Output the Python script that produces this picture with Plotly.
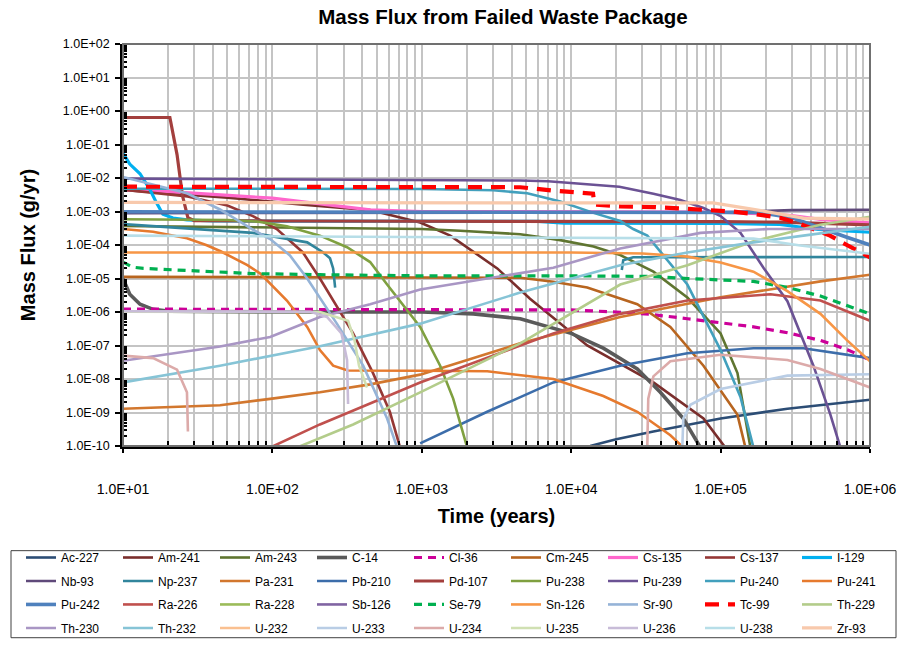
import plotly.graph_objects as go

# ---------------------------------------------------------------------------
# Mass flux released from a failed waste package, per radionuclide.
# Each nuclide: time points (years) and mass flux (g/yr).
# None marks a break in a curve (flux below the plotted range).
# ---------------------------------------------------------------------------
AC227_T = [13400, 20000, 35500, 1e5, 2.8e5, 1e6]
AC227_F = [1e-10, 1.6e-10, 2.7e-10, 6.6e-10, 1.3e-9, 2.4e-9]

AM241_T = [10, 50, 161, 451, 975, 1550, 3200, 5300, 12800, 35500, 76800, 107600]
AM241_F = [4.4e-3, 2.6e-3, 1.6e-3, 1.1e-3, 4.7e-4, 1.9e-4, 2.0e-5, 2.5e-6, 1.0e-7, 7.9e-9, 6.6e-10, 9e-11]

AM243_T = [10, 300, 1000, 1807, 4560, 8450, 14100, 21300, 35500, 59900, 1e5, 129700, 158400]
AM243_F = [3.7e-4, 3.2e-4, 3.0e-4, 2.65e-4, 2.1e-4, 1.4e-4, 9.0e-5, 5.0e-5, 1.6e-5, 2.7e-6, 2.3e-7, 1.5e-8, 9e-11]

C14_T = [10, 11.1, 13, 15.9, 20.6, 100, 1000, 2210, 4560, 1e4, 16400, 27700, 39500, 56300, 73300]
C14_F = [1.0e-5, 3.4e-6, 1.7e-6, 1.2e-6, 1.05e-6, 1.0e-6, 1.0e-6, 8.8e-7, 6.3e-7, 2.3e-7, 8.3e-8, 2.0e-8, 4.0e-9, 6.6e-10, 9e-11]

CL36_T = [10, 1000, 1e4, 20000, 34000, 60000, 1e5, 166000, 280000, 466000, 706000, 1e6]
CL36_F = [1.22e-6, 1.2e-6, 1.15e-6, 1.0e-6, 8.5e-7, 6.3e-7, 4.8e-7, 3.6e-7, 2.4e-7, 1.42e-7, 7.5e-8, 3.7e-8]

CM245_T = [10, 1000, 4560, 7590, 12800, 27700, 46100, 76800, 129700, 146600]
CM245_F = [1.12e-5, 1.1e-5, 1.05e-5, 8.0e-6, 5.4e-6, 1.7e-6, 3.6e-7, 2.5e-8, 8.5e-10, 9e-11]

CS135_T = [10, 20.6, 100, 451, 1000, 1e4, 1e5, 2e5, 3e5, 466000, 1e6]
CS135_F = [4.5e-3, 3.9e-3, 2.5e-3, 1.12e-3, 1.0e-3, 9.8e-4, 9.6e-4, 8.5e-4, 7.6e-4, 5.8e-4, 4.6e-4]

CS137_T = [10, 27, 50, 74, 107, 160, 208, 347, 470, 611, 716]
CS137_F = [4.5e-3, 2.8e-3, 1.5e-3, 7.3e-4, 3.0e-4, 6.0e-5, 1.0e-5, 2.3e-7, 1.55e-8, 1.05e-9, 9e-11]

I129_T = [10, 11.1, 13, 15.2, 16.8, 18.5, 21.6, 26.8, 40, 1000, 6000, 9000, 1e5, 2.5e5, 4.5e5, 1e6]
I129_F = [5.5e-2, 2.6e-2, 1.34e-2, 4.4e-3, 1.78e-3, 8.3e-4, 6.4e-4, 5.6e-4, 5.2e-4, 5.2e-4, 5.1e-4, 4.5e-4, 4.4e-4, 4.1e-4, 2.9e-4, 2.4e-4]

NB93_T = [10, 1e4, 1e5, 3e5, 1e6]
NB93_F = [8.9e-4, 9.0e-4, 9.5e-4, 1.1e-3, 1.13e-3]

NP237_T = [10, 74, 171, 219, 243, 255, 263, None, 21800, 22300, 26000, 1e5, 1e6]
NP237_F = [4.2e-4, 2.3e-4, 1.2e-4, 6.0e-5, 4.0e-5, 2.0e-5, 5.3e-6, None, 1.8e-5, 3.5e-5, 4.3e-5, 4.4e-5, 4.4e-5]

PA231_T = [10, 44.6, 96.6, 208, 451, 975, 4560, 21300, 1e5, 466000, 1e6]
PA231_F = [1.29e-9, 1.65e-9, 2.55e-9, 4.0e-9, 6.9e-9, 1.35e-8, 1.16e-7, 7.1e-7, 2.74e-6, 8.2e-6, 1.3e-5]

PB210_T = [975, 2740, 7590, 21300, 59900, 166000, 358000, 1e6]
PB210_F = [1.2e-10, 1.05e-9, 7.9e-9, 2.5e-8, 5.9e-8, 8.3e-8, 8.3e-8, 4.2e-8]

PD107_T = [10, 20.6, 23, 25, 27.2, 30, 100, 1000, 1e4, 1e5, 2.5e5, 5e5, 1e6]
PD107_F = [0.64, 0.64, 0.05, 3.0e-3, 6.5e-4, 5.3e-4, 5.2e-4, 5.2e-4, 5.1e-4, 5.0e-4, 4.8e-4, 4.4e-4, 4.0e-4]

PU238_T = [10, 50, 79, 125, 161, 208, 316, 451, 586, 798, 975, 1327, 1622, 2013]
PU238_F = [5.9e-4, 5.6e-4, 5.0e-4, 3.6e-4, 2.6e-4, 1.9e-4, 8.6e-5, 3.1e-5, 6.6e-6, 1.1e-6, 3.6e-7, 2.5e-8, 2.6e-9, 9e-11]

PU239_T = [10, 2000, 4560, 7000, 11500, 21000, 35500, 53800, 76800, 1e5, 135800, 193600, 280000, 418000, 543000, 634000]
PU239_F = [9.6e-3, 8.9e-3, 8.4e-3, 8.0e-3, 6.8e-3, 5.5e-3, 3.4e-3, 2.2e-3, 1.27e-3, 7.3e-4, 2.3e-4, 2.1e-5, 2.1e-6, 2.5e-8, 8.6e-10, 9e-11]

PU240_T = [10, 1000, 3006, 5080, 8450, 14100, 21300, 26000, 32300, 48000, 59900, 1e5, 135800, 166000]
PU240_F = [4.8e-3, 4.7e-3, 4.3e-3, 3.5e-3, 2.0e-3, 9.1e-4, 5.2e-4, 3.0e-4, 1.9e-4, 2.1e-5, 6.6e-6, 7.3e-8, 2.9e-9, 9e-11]

PU241_T = [10, 15.9, 26.8, 36, 45, 68, 83, 107, 125, 171, 208, 255, 320, 1000, 2740, 7590, 16400, 27700, 46100, 56300]
PU241_F = [3.0e-4, 2.5e-4, 1.6e-4, 1.0e-4, 6.5e-5, 2.5e-5, 1.4e-5, 4.5e-6, 2.2e-6, 3.6e-7, 7.3e-8, 2.5e-8, 1.8e-8, 1.77e-8, 1.7e-8, 1.0e-8, 3.1e-9, 1.05e-9, 2.1e-10, 9e-11]

PU242_T = [10, 1e4, 1e5, 185000, 3e5, 445000, 7e5, 1e6]
PU242_F = [9.8e-4, 9.8e-4, 9.7e-4, 9.3e-4, 6.5e-4, 3.4e-4, 1.7e-4, 1.0e-4]

RA226_T = [96.6, 208, 975, 2740, 7590, 21300, 59900, 216000, 466000, 1e6]
RA226_F = [9e-11, 4.4e-10, 7.9e-9, 4.2e-8, 2.3e-7, 8.8e-7, 2.2e-6, 3.4e-6, 2.2e-6, 5.5e-7]

# these three stay below the plotted flux range
RA228_T = [10, 1e6]
RA228_F = [1e-12, 1e-12]

SB126_T = [10, 1e6]
SB126_F = [1e-12, 1e-12]

SE79_T = [10, 11.5, 13.7, 26.8, 74, 208, 1000, 1e4, 35500, 59900, 166000, 280000, 466000, 1e6]
SE79_F = [3.1e-5, 2.2e-5, 2.0e-5, 1.7e-5, 1.4e-5, 1.3e-5, 1.2e-5, 1.2e-5, 1.15e-5, 1.0e-5, 8.2e-6, 5.4e-6, 3.0e-6, 8.8e-7]

SN126_T = [10, 1e4, 30000, 60000, 1e5, 166000, 280000, 466000, 706000, 1e6]
SN126_F = [6.0e-5, 6.0e-5, 5.6e-5, 4.5e-5, 3.0e-5, 1.6e-5, 4.2e-6, 8.8e-7, 1.4e-7, 3.4e-8]

SR90_T = [10, 26.8, 44.6, 74, 96.6, 131, 171, 270, 405, 586, 684]
SR90_F = [1.07e-2, 3.5e-3, 1.15e-3, 2.9e-4, 1.5e-4, 4.9e-5, 1.0e-5, 4.5e-7, 2.5e-8, 6.6e-10, 9e-11]

TC99_T = [10, 4560, 7590, 11500, 14000, 14300, 16400, 21300, 35500, 76800, 121000, 1.8e5, 2.5e5, 3.3e5, 5.4e5, 7.0e5, 1e6]
TC99_F = [5.5e-3, 5.3e-3, 4.2e-3, 3.7e-3, 3.4e-3, 1.6e-3, 1.5e-3, 1.42e-3, 1.36e-3, 1.15e-3, 1.0e-3, 8.0e-4, 6.5e-4, 4.5e-4, 1.9e-4, 1.0e-4, 4.3e-5]

TH229_T = [146, 347, 975, 4560, 21300, 60000, 166000, 466000, 1e6]
TH229_F = [9e-11, 4.4e-10, 4.0e-9, 1.16e-7, 6.6e-6, 2.5e-5, 1.3e-4, 4.0e-4, 7.0e-4]

TH230_T = [10, 44.6, 96.6, 208, 451, 975, 7590, 21300, 73300, 210000, 1e6]
TH230_F = [3.5e-8, 9.3e-8, 1.8e-7, 7.1e-7, 1.7e-6, 4.7e-6, 2.1e-5, 7.9e-5, 2.3e-4, 3.0e-4, 3.0e-4]

TH232_T = [10, 44.6, 208, 975, 4560, 21300, 59900, 166000, 358000, 1e6]
TH232_F = [7.9e-9, 2.5e-8, 9.5e-8, 4.5e-7, 3.8e-6, 2.5e-5, 6.0e-5, 1.2e-4, 1.9e-4, 3.5e-4]

U232_T = [10, 1e6]
U232_F = [1e-12, 1e-12]

U233_T = [55400, 56300, 62800, 1e5, 280000, 1e6]
U233_F = [9e-11, 6.6e-10, 1.7e-9, 5.0e-9, 1.26e-8, 1.38e-8]

U234_T = [10, 15.9, 23, 26.8, 27.2, None, 32300, 32800, 35500, 46100, 1e5, 280000, 466000, 1e6]
U234_F = [5.0e-8, 4.2e-8, 1.9e-8, 4.0e-9, 2.7e-10, None, 9e-11, 2.6e-9, 1.2e-8, 3.4e-8, 5.3e-8, 3.7e-8, 2.0e-8, 5.6e-9]

U235_T = [10, 100, 208, 321, 355, 380, 430]
U235_F = [1.02e-6, 1.02e-6, 1.0e-6, 5.5e-7, 1.4e-7, 2.5e-8, 5.6e-9]

U236_T = [10, 100, 180, 232, 290, 316, 321]
U236_F = [1.05e-6, 1.05e-6, 1.02e-6, 7.1e-7, 2.3e-7, 3.7e-8, 1.8e-9]

U238_T = [10, 1000, 1e4, 166000, 342000, 1e6]
U238_F = [1.9e-4, 1.75e-4, 1.6e-4, 1.55e-4, 9.7e-5, 5.5e-5]

ZR93_T = [10, 1e4, 89000, 166000, 358000, 1e6]
ZR93_F = [1.86e-3, 1.86e-3, 1.8e-3, 1.16e-3, 6.35e-4, 5.9e-4]

SERIES = [
    ("Ac-227", AC227_T, AC227_F), ("Am-241", AM241_T, AM241_F), ("Am-243", AM243_T, AM243_F),
    ("C-14", C14_T, C14_F), ("Cl-36", CL36_T, CL36_F), ("Cm-245", CM245_T, CM245_F),
    ("Cs-135", CS135_T, CS135_F), ("Cs-137", CS137_T, CS137_F), ("I-129", I129_T, I129_F),
    ("Nb-93", NB93_T, NB93_F), ("Np-237", NP237_T, NP237_F), ("Pa-231", PA231_T, PA231_F),
    ("Pb-210", PB210_T, PB210_F), ("Pd-107", PD107_T, PD107_F), ("Pu-238", PU238_T, PU238_F),
    ("Pu-239", PU239_T, PU239_F), ("Pu-240", PU240_T, PU240_F), ("Pu-241", PU241_T, PU241_F),
    ("Pu-242", PU242_T, PU242_F), ("Ra-226", RA226_T, RA226_F), ("Ra-228", RA228_T, RA228_F),
    ("Sb-126", SB126_T, SB126_F), ("Se-79", SE79_T, SE79_F), ("Sn-126", SN126_T, SN126_F),
    ("Sr-90", SR90_T, SR90_F), ("Tc-99", TC99_T, TC99_F), ("Th-229", TH229_T, TH229_F),
    ("Th-230", TH230_T, TH230_F), ("Th-232", TH232_T, TH232_F), ("U-232", U232_T, U232_F),
    ("U-233", U233_T, U233_F), ("U-234", U234_T, U234_F), ("U-235", U235_T, U235_F),
    ("U-236", U236_T, U236_F), ("U-238", U238_T, U238_F), ("Zr-93", ZR93_T, ZR93_F),
]

# line style per nuclide: colour, width, dash
STYLE = {
    "Ac-227": ("#2C4D75", 2.6, None), "Am-241": ("#7A2E2C", 2.6, None), "Am-243": ("#5F7530", 2.6, None),
    "C-14": ("#5A5A5A", 3.6, None), "Cl-36": ("#CC0099", 3.2, "8px,6px"), "Cm-245": ("#B8651F", 2.6, None),
    "Cs-135": ("#FF66CC", 3.2, None), "Cs-137": ("#953735", 2.6, None), "I-129": ("#00B0F0", 3.2, None),
    "Nb-93": ("#5F497A", 2.6, None), "Np-237": ("#31859C", 2.6, None), "Pa-231": ("#D2772E", 2.6, None),
    "Pb-210": ("#3C6DAA", 2.6, None), "Pd-107": ("#A33F3D", 3.2, None), "Pu-238": ("#7FA040", 2.6, None),
    "Pu-239": ("#6B5294", 2.6, None), "Pu-240": ("#42A0BD", 2.6, None), "Pu-241": ("#E67A2E", 2.6, None),
    "Pu-242": ("#4F81BD", 3.6, None), "Ra-226": ("#C0504D", 2.6, None), "Ra-228": ("#9BBB59", 2.6, None),
    "Sb-126": ("#8064A2", 2.6, None), "Se-79": ("#00B050", 3.2, "8px,6px"), "Sn-126": ("#F79646", 2.6, None),
    "Sr-90": ("#95B3D7", 2.6, None), "Tc-99": ("#FF0000", 4.2, "14px,9px"), "Th-229": ("#B3CC8A", 2.6, None),
    "Th-230": ("#A996C4", 2.6, None), "Th-232": ("#86C4D6", 2.6, None), "U-232": ("#FAC090", 2.6, None),
    "U-233": ("#B9CDE5", 2.6, None), "U-234": ("#DCAAA9", 2.6, None), "U-235": ("#D0E0B2", 2.6, None),
    "U-236": ("#C8BCD8", 2.6, None), "U-238": ("#B7DEE8", 2.6, None), "Zr-93": ("#F8C9AC", 3.2, None),
}

Y_TICKS = [10.0 ** e for e in range(-10, 3)]
Y_LABELS = ["1.0E%+03d" % e for e in range(-10, 3)]
X_TICKS = [10.0 ** e for e in range(1, 7)]
X_LABELS = ["1.0E%+03d" % e for e in range(1, 7)]
X_MINOR = [m * 10.0 ** e for e in range(1, 6) for m in range(2, 10)]
Y_MINOR = [m * 10.0 ** e for e in range(-10, 2) for m in range(2, 10)]

FONT = "Liberation Sans, Arial, sans-serif"
LEGENDS = ["legend", "legend2", "legend3", "legend4"]

fig = go.Figure()
for i, (name, t, f) in enumerate(SERIES):
    color, width, dash = STYLE[name]
    line = dict(color=color, width=width)
    if dash:
        line["dash"] = dash
    fig.add_trace(go.Scatter(
        x=t, y=f, mode="lines", name=name, line=line,
        connectgaps=False, legend=LEGENDS[i // 9], hoverinfo="name+x+y",
    ))

# plot-area frame (top/right in grey)
fig.add_shape(type="rect", xref="paper", yref="paper", x0=0, x1=1, y0=0, y1=1,
              line=dict(color="#707070", width=2), layer="above")
# legend frame
fig.add_shape(type="rect", xref="paper", yref="paper",
              x0=(11 - 123) / 747, x1=(896 - 123) / 747,
              y0=(455 - 651) / 411, y1=(455 - 562) / 411,
              line=dict(color="#404040", width=1))

legend_rows = {}
for r, key in enumerate(LEGENDS):
    legend_rows[key] = dict(
        orientation="h", x=(21 - 123) / 747, xanchor="left",
        y=(455 - (569 + 24 * r)) / 411, yanchor="middle",
        entrywidth=52, bgcolor="rgba(0,0,0,0)", borderwidth=0,
        font=dict(family=FONT, size=12, color="#000000"),
        itemclick=False, itemdoubleclick=False,
    )

fig.update_layout(
    width=907, height=654,
    margin=dict(l=123, r=37, t=44, b=199),
    paper_bgcolor="white", plot_bgcolor="white",
    title=dict(text="Mass Flux from Failed Waste Package", x=(503) / 907, xanchor="center",
               y=1 - 17 / 654, yanchor="middle",
               font=dict(family=FONT, size=20.5, color="#000000", weight="bold")),
    showlegend=True,
    **legend_rows,
    xaxis=dict(
        type="log", range=[1, 6],
        tickmode="array", tickvals=X_TICKS, ticktext=X_LABELS,
        tickfont=dict(family=FONT, size=14, color="#000000"),
        ticks="outside", ticklen=4, tickcolor="#000000", tickwidth=1.5,
        ticklabelstandoff=24,
        showgrid=True, gridcolor="#C4C4C4", gridwidth=1.5,
        minor=dict(tickvals=X_MINOR, ticks="inside", ticklen=5, tickcolor="#000000",
                   showgrid=True, gridcolor="#C4C4C4", gridwidth=1.5),
        showline=True, linecolor="#000000", linewidth=2.5,
        zeroline=False,
        title=dict(text="Time (years)", standoff=14,
                   font=dict(family=FONT, size=20, color="#000000", weight="bold")),
    ),
    yaxis=dict(
        type="log", range=[-10, 2],
        tickmode="array", tickvals=Y_TICKS, ticktext=Y_LABELS,
        tickfont=dict(family=FONT, size=12.5, color="#000000"),
        ticks="outside", ticklen=5, tickcolor="#000000", tickwidth=1.5,
        ticklabelstandoff=3,
        showgrid=True, gridcolor="#C4C4C4", gridwidth=1.5,
        minor=dict(tickvals=Y_MINOR, ticks="inside", ticklen=4, tickcolor="#000000",
                   showgrid=False),
        showline=True, linecolor="#000000", linewidth=2.5,
        zeroline=False,
        title=dict(text="Mass Flux (g/yr)", standoff=22,
                   font=dict(family=FONT, size=20, color="#000000", weight="bold")),
    ),
)

fig.write_html("out.html")
